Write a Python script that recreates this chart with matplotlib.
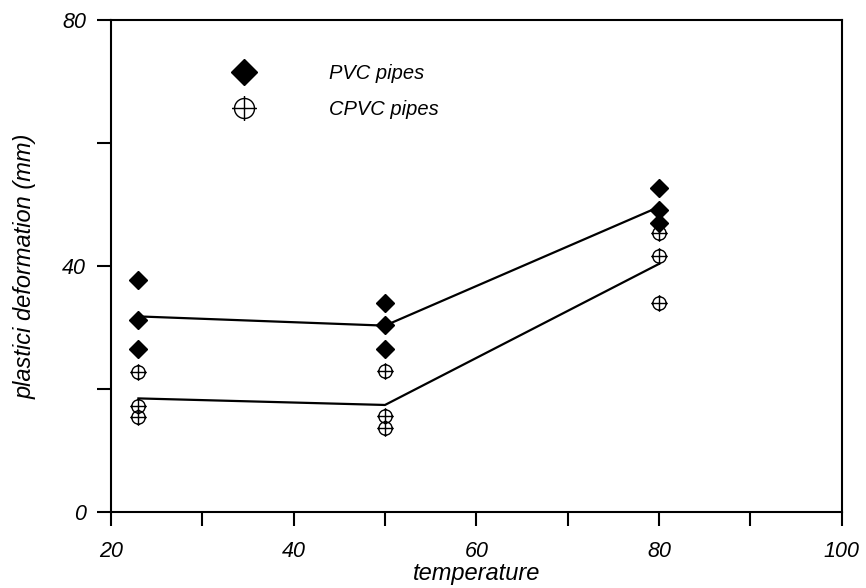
import numpy as np
import matplotlib
matplotlib.use("Agg")
import matplotlib.pyplot as plt
from matplotlib.path import Path
from matplotlib.ticker import MultipleLocator

# data
temps = [23, 50, 80]
pvc = [[37.7, 31.2, 26.5],
       [34.0, 30.4, 26.5],
       [52.7, 49.1, 47.0]]
cpvc = [[22.8, 17.2, 15.4],
        [22.9, 15.6, 13.7],
        [45.4, 41.6, 34.0]]

plt.rcParams['font.family'] = ['Liberation Sans', 'DejaVu Sans']
plt.rcParams['font.style'] = 'italic'

# circle with a cross sticking out a little
circ = Path.unit_circle()
cross = Path([(-1.25, 0), (1.25, 0), (0, -1.25), (0, 1.25)],
             [Path.MOVETO, Path.LINETO, Path.MOVETO, Path.LINETO])
circ_plus = Path.make_compound_path(circ, cross)

fig = plt.figure(figsize=(8.66, 5.88), dpi=100)
ax = fig.add_axes([0.1282, 0.1293, 0.8436, 0.8367])

pvc_mean = [np.mean(v) for v in pvc]
cpvc_mean = [np.mean(v) for v in cpvc]
ax.plot(temps, pvc_mean, color='black', lw=1.6, zorder=2)
ax.plot(temps, cpvc_mean, color='black', lw=1.6, zorder=2)

px = [t for t, v in zip(temps, pvc) for _ in v]
py = [y for v in pvc for y in v]
cx = [t for t, v in zip(temps, cpvc) for _ in v]
cy = [y for v in cpvc for y in v]

ax.plot(cx, cy, ls='none', marker=circ_plus, ms=12, mfc='none', mec='black',
        mew=1.0, zorder=3, label='CPVC pipes')
ax.plot(px, py, ls='none', marker='D', ms=9, color='black', zorder=4,
        label='PVC pipes')

h, l = ax.get_legend_handles_labels()
ax.legend(h[::-1], l[::-1], loc='center left', bbox_to_anchor=(0.155, 0.854),
          frameon=False, markerscale=1.5, fontsize=14.5, handlelength=2.0,
          handletextpad=3.2, labelspacing=0.85, borderpad=0, borderaxespad=0)

ax.set_xlim(20, 100)
ax.set_ylim(0, 80)
ax.xaxis.set_major_locator(MultipleLocator(20))
ax.xaxis.set_minor_locator(MultipleLocator(10))
ax.yaxis.set_major_locator(MultipleLocator(40))
ax.yaxis.set_minor_locator(MultipleLocator(20))
ax.tick_params(which='both', direction='out', length=10, width=1.5,
               labelsize=15.5)
ax.tick_params(axis='x', pad=11)
ax.tick_params(axis='y', pad=8)
for s in ax.spines.values():
    s.set_linewidth(1.5)

ax.set_xlabel('temperature', fontsize=17, labelpad=0)
ax.set_ylabel('plastici deformation (mm)', fontsize=17, labelpad=18)

fig.savefig('out.png', dpi=100)
